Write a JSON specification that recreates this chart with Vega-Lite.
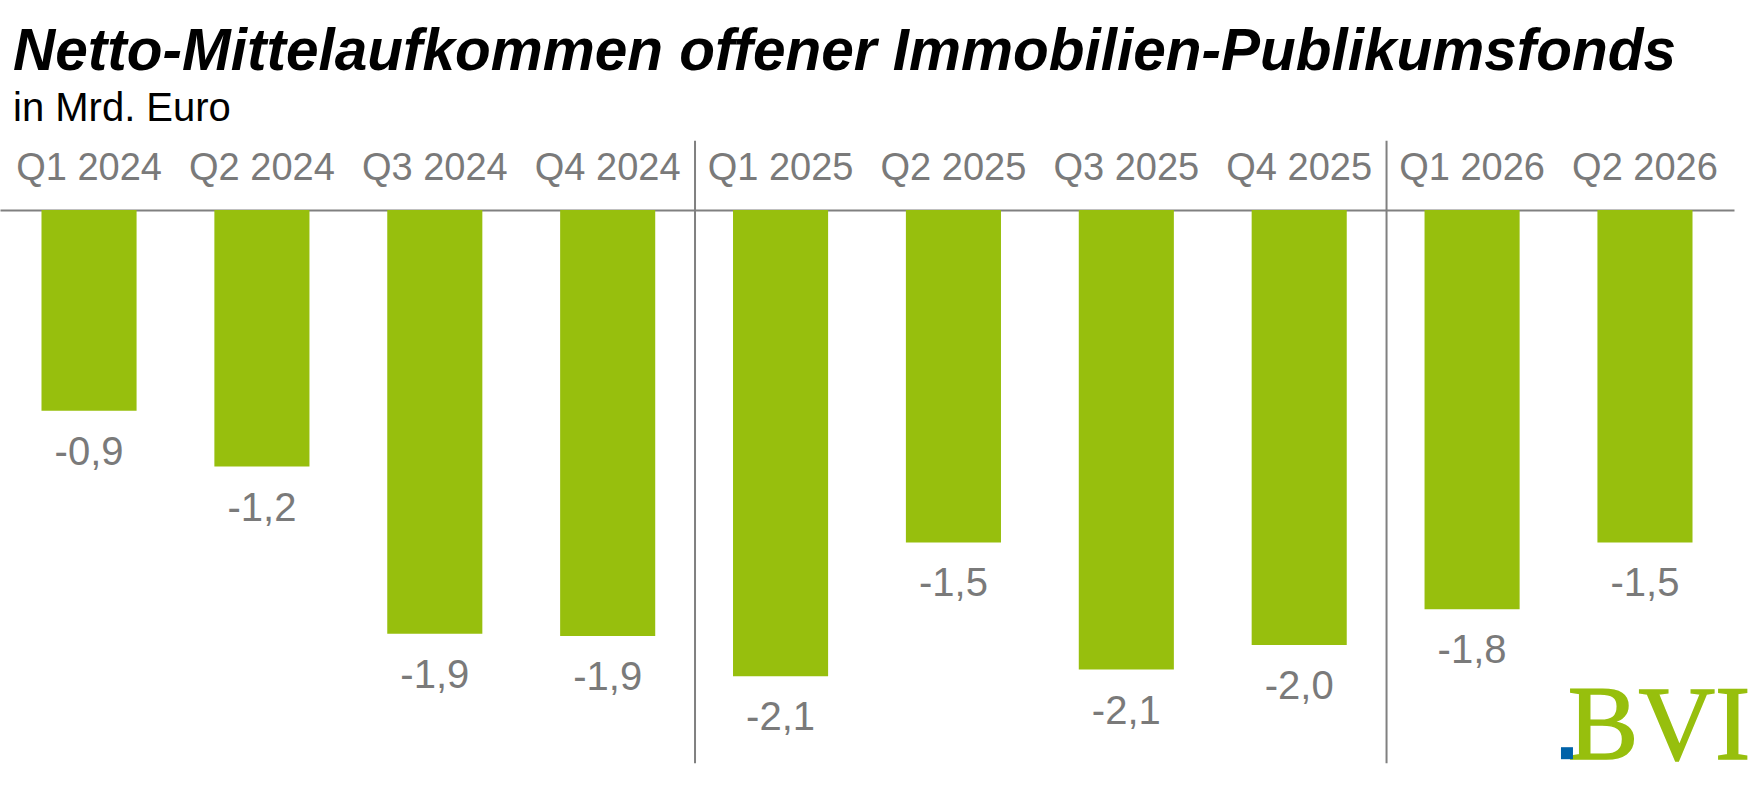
{
  "$schema": "https://vega.github.io/schema/vega-lite/v6.json",
  "autosize": {"type": "none"},
  "padding": {"left": 0, "top": 210, "right": 18, "bottom": 0},
  "width": 1734,
  "height": 580,
  "background": "white",
  "title": {
    "text": "Netto-Mittelaufkommen offener Immobilien-Publikumsfonds",
    "subtitle": "in Mrd. Euro",
    "anchor": "start",
    "frame": "group",
    "font": "Liberation Sans",
    "fontSize": 58.5,
    "fontStyle": "italic",
    "fontWeight": "bold",
    "color": "black",
    "subtitleFont": "Liberation Sans",
    "subtitleFontSize": 40,
    "subtitleColor": "black",
    "subtitlePadding": 6,
    "dx": 13,
    "offset": 10
  },
  "config": {
    "view": {"stroke": null},
    "font": "Liberation Sans"
  },
  "datasets": {
    "flows": [
      {"q": "Q1 2024", "value": -0.9, "label": "-0,9"},
      {"q": "Q2 2024", "value": -1.15, "label": "-1,2"},
      {"q": "Q3 2024", "value": -1.9, "label": "-1,9"},
      {"q": "Q4 2024", "value": -1.91, "label": "-1,9"},
      {"q": "Q1 2025", "value": -2.09, "label": "-2,1"},
      {"q": "Q2 2025", "value": -1.49, "label": "-1,5"},
      {"q": "Q3 2025", "value": -2.06, "label": "-2,1"},
      {"q": "Q4 2025", "value": -1.95, "label": "-2,0"},
      {"q": "Q1 2026", "value": -1.79, "label": "-1,8"},
      {"q": "Q2 2026", "value": -1.49, "label": "-1,5"}
    ],
    "dividers": [
      {"q": "Q1 2025"},
      {"q": "Q1 2026"}
    ],
    "logo": [
      {"t": "BVI"}
    ]
  },
  "layer": [
    {
      "data": {"name": "flows"},
      "mark": {"type": "bar", "color": "#97bf0d"},
      "encoding": {
        "x": {
          "field": "q",
          "type": "nominal",
          "sort": null,
          "scale": {
            "domain": ["Q1 2024", "Q2 2024", "Q3 2024", "Q4 2024", "Q1 2025", "Q2 2025", "Q3 2025", "Q4 2025", "Q1 2026", "Q2 2026"],
            "paddingInner": 0.45,
            "paddingOuter": 0.24
          },
          "axis": {
            "orient": "top",
            "title": null,
            "ticks": false,
            "domainColor": "#808080",
            "domainWidth": 2,
            "labelAngle": 0,
            "labelFontSize": 38,
            "labelColor": "#7a7a7a",
            "labelBaseline": "alphabetic",
            "labelPadding": 31
          }
        },
        "y": {
          "field": "value",
          "type": "quantitative",
          "scale": {"domain": [-2.6, 0], "nice": false},
          "axis": null
        }
      }
    },
    {
      "data": {"name": "flows"},
      "mark": {"type": "text", "baseline": "top", "dy": 22, "fontSize": 40, "color": "#7a7a7a"},
      "encoding": {
        "x": {"field": "q", "type": "nominal"},
        "y": {"field": "value", "type": "quantitative"},
        "text": {"field": "label"}
      }
    },
    {
      "data": {"name": "dividers"},
      "mark": {"type": "rule", "color": "#808080", "strokeWidth": 2, "xOffset": -38},
      "encoding": {
        "x": {"field": "q", "type": "nominal", "bandPosition": 0},
        "y": {"datum": 0.31},
        "y2": {"datum": -2.48}
      }
    },
    {
      "data": {"name": "logo"},
      "mark": {"type": "text", "font": "Liberation Serif", "fontSize": 106, "color": "#97bf0d", "baseline": "alphabetic", "dx": 14, "stroke": "#97bf0d", "strokeWidth": 1.5},
      "encoding": {
        "x": {"datum": "Q2 2026"},
        "y": {"datum": -2.46},
        "text": {"field": "t"}
      }
    },
    {
      "data": {"name": "logo"},
      "mark": {"type": "point", "shape": "square", "filled": true, "opacity": 1, "color": "#0062a8", "size": 144, "xOffset": -78},
      "encoding": {
        "x": {"datum": "Q2 2026"},
        "y": {"datum": -2.435}
      }
    }
  ]
}
